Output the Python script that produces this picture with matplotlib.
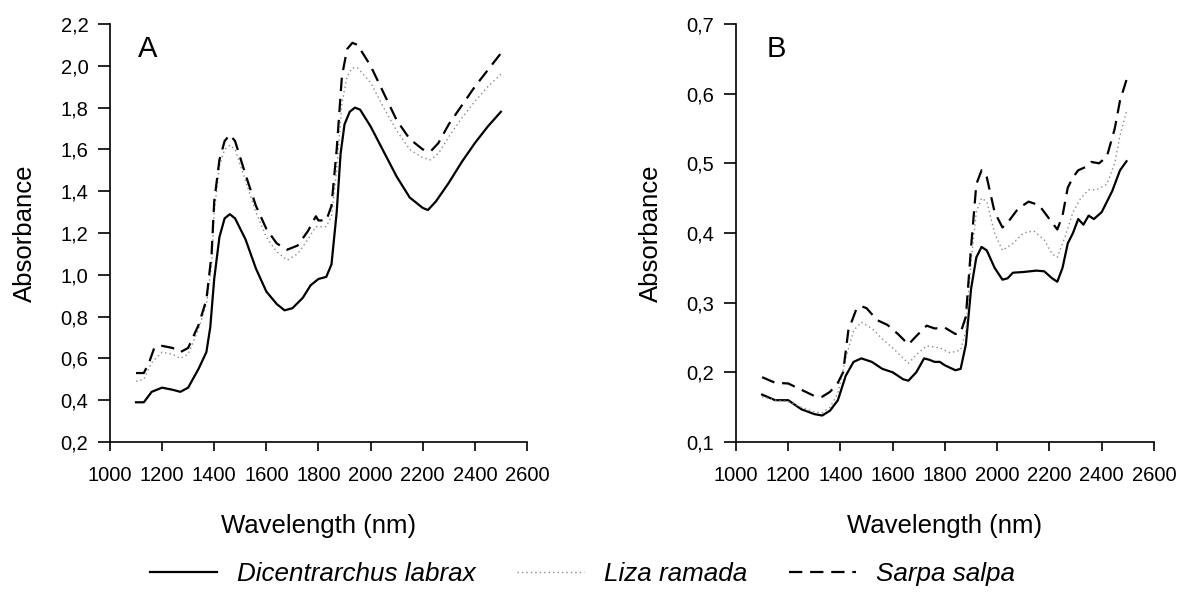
import numpy as np
import matplotlib
matplotlib.use("Agg")
import matplotlib.pyplot as plt
from matplotlib.ticker import FuncFormatter

plt.rcParams['font.family'] = ['Liberation Sans', 'DejaVu Sans']

# Panel A spectra (wavelength nm, absorbance)
wl_a_labrax = [1100, 1130, 1160, 1200, 1240, 1270, 1300, 1340, 1370, 1385, 1400, 1420, 1440, 1460,
               1480, 1520, 1560, 1600, 1640, 1670, 1700, 1740, 1770, 1800, 1830, 1850, 1870, 1885,
               1900, 1920, 1940, 1960, 2000, 2050, 2100, 2150, 2200, 2220, 2250, 2300, 2350, 2400,
               2450, 2500]
a_labrax = [0.39, 0.39, 0.44, 0.46, 0.45, 0.44, 0.46, 0.55, 0.63, 0.75, 0.98, 1.18, 1.27, 1.29,
            1.27, 1.17, 1.03, 0.92, 0.86, 0.83, 0.84, 0.89, 0.95, 0.98, 0.99, 1.05, 1.30, 1.58,
            1.72, 1.78, 1.80, 1.79, 1.71, 1.59, 1.47, 1.37, 1.32, 1.31, 1.35, 1.44, 1.54, 1.63,
            1.71, 1.78]

wl_a_ramada = [1100, 1130, 1160, 1200, 1240, 1270, 1300, 1340, 1370, 1390, 1400, 1420, 1440, 1460,
               1480, 1520, 1560, 1600, 1640, 1680, 1720, 1760, 1790, 1830, 1850, 1870, 1890, 1910,
               1930, 1950, 2000, 2050, 2100, 2150, 2200, 2230, 2260, 2300, 2350, 2400, 2450, 2500]
a_ramada = [0.49, 0.50, 0.58, 0.63, 0.62, 0.60, 0.62, 0.74, 0.86, 1.05, 1.30, 1.52, 1.60, 1.62,
            1.60, 1.45, 1.30, 1.18, 1.11, 1.07, 1.10, 1.17, 1.23, 1.23, 1.28, 1.50, 1.82, 1.95,
            1.99, 1.99, 1.92, 1.80, 1.69, 1.60, 1.56, 1.55, 1.58, 1.66, 1.75, 1.83, 1.90, 1.96]

wl_a_salpa = [1100, 1130, 1150, 1170, 1200, 1240, 1270, 1300, 1340, 1370, 1390, 1400, 1420, 1440,
              1460, 1480, 1520, 1560, 1600, 1640, 1680, 1720, 1760, 1790, 1800, 1830, 1850, 1870,
              1890, 1910, 1930, 1950, 2000, 2050, 2100, 2150, 2200, 2230, 2260, 2300, 2350, 2400,
              2450, 2500]
a_salpa = [0.53, 0.53, 0.58, 0.65, 0.66, 0.65, 0.63, 0.65, 0.76, 0.88, 1.10, 1.35, 1.55, 1.64,
           1.67, 1.64, 1.48, 1.33, 1.22, 1.15, 1.12, 1.14, 1.21, 1.28, 1.26, 1.26, 1.33, 1.60,
           1.95, 2.08, 2.11, 2.10, 2.00, 1.87, 1.74, 1.65, 1.60, 1.59, 1.63, 1.72, 1.81, 1.90,
           1.98, 2.06]

# Panel B spectra
wl_b_labrax = [1100, 1150, 1200, 1250, 1300, 1330, 1360, 1390, 1420, 1450, 1480, 1520, 1560, 1600,
               1640, 1660, 1690, 1720, 1740, 1760, 1780, 1800, 1840, 1860, 1880, 1900, 1920, 1940,
               1960, 1990, 2020, 2040, 2060, 2100, 2150, 2180, 2210, 2230, 2250, 2270, 2290, 2310,
               2330, 2350, 2370, 2400, 2440, 2470, 2495]
b_labrax = [0.168, 0.160, 0.160, 0.147, 0.140, 0.138, 0.145, 0.160, 0.195, 0.215, 0.220, 0.215,
            0.205, 0.200, 0.190, 0.188, 0.200, 0.220, 0.218, 0.215, 0.215, 0.210, 0.203, 0.205,
            0.240, 0.320, 0.365, 0.380, 0.375, 0.350, 0.333, 0.335, 0.343, 0.344, 0.346, 0.345,
            0.335, 0.330, 0.350, 0.385, 0.400, 0.420, 0.412, 0.425, 0.420, 0.430, 0.460, 0.490,
            0.503]

wl_b_ramada = [1100, 1150, 1200, 1250, 1300, 1330, 1360, 1390, 1420, 1450, 1480, 1520, 1560, 1600,
               1640, 1660, 1690, 1730, 1780, 1820, 1860, 1880, 1900, 1920, 1940, 1960, 1990, 2020,
               2060, 2100, 2140, 2180, 2210, 2230, 2260, 2290, 2320, 2350, 2380, 2420, 2450, 2470,
               2495]
b_ramada = [0.165, 0.160, 0.158, 0.150, 0.143, 0.142, 0.150, 0.170, 0.220, 0.260, 0.272, 0.263,
            0.248, 0.235, 0.220, 0.213, 0.225, 0.238, 0.235, 0.228, 0.232, 0.260, 0.360, 0.430,
            0.450, 0.445, 0.400, 0.375, 0.385, 0.400, 0.403, 0.390, 0.370, 0.365, 0.395, 0.430,
            0.450, 0.462, 0.462, 0.470, 0.500, 0.540, 0.575]

wl_b_salpa = [1100, 1150, 1200, 1250, 1300, 1330, 1360, 1390, 1410, 1430, 1460, 1480, 1500, 1540,
              1580, 1620, 1660, 1690, 1730, 1760, 1800, 1840, 1860, 1880, 1900, 1920, 1940, 1960,
              1990, 2020, 2040, 2080, 2120, 2160, 2200, 2230, 2250, 2270, 2290, 2310, 2340, 2360,
              2390, 2420, 2450, 2470, 2495]
b_salpa = [0.193, 0.185, 0.184, 0.175, 0.166, 0.165, 0.172, 0.185, 0.200, 0.260, 0.290, 0.295,
           0.292, 0.275, 0.268, 0.255, 0.240, 0.252, 0.267, 0.263, 0.264, 0.255, 0.257, 0.280,
           0.380, 0.470, 0.490, 0.480, 0.430, 0.408, 0.415, 0.435, 0.445, 0.440, 0.420, 0.405,
           0.425, 0.465, 0.480, 0.490, 0.495, 0.502, 0.500, 0.510, 0.550, 0.590, 0.620]

species = ["Dicentrarchus labrax", "Liza ramada", "Sarpa salpa"]
x_ticks = [1000, 1200, 1400, 1600, 1800, 2000, 2200, 2400, 2600]
y_ticks_a = [0.2, 0.4, 0.6, 0.8, 1.0, 1.2, 1.4, 1.6, 1.8, 2.0, 2.2]
y_ticks_b = [0.1, 0.2, 0.3, 0.4, 0.5, 0.6, 0.7]

styles = [dict(color='black', lw=1.6, ls='-'),
          dict(color='#8a8a8a', lw=1.0, ls=(0, (1, 2.2))),
          dict(color='black', lw=1.6, ls=(0, (6, 3.5)))]

fig = plt.figure(figsize=(11.81, 5.94), dpi=100)
ax_a = fig.add_axes([0.0931, 0.2559, 0.3531, 0.7037])
ax_b = fig.add_axes([0.6232, 0.2559, 0.3539, 0.7037])

comma = FuncFormatter(lambda v, p: f"{v:.1f}".replace('.', ','))

panels = [
    (ax_a, [(wl_a_labrax, a_labrax), (wl_a_ramada, a_ramada), (wl_a_salpa, a_salpa)], y_ticks_a, "A"),
    (ax_b, [(wl_b_labrax, b_labrax), (wl_b_ramada, b_ramada), (wl_b_salpa, b_salpa)], y_ticks_b, "B"),
]

handles = []
for ax, series, yt, tag in panels:
    hs = []
    for (wl, ab), st, name in zip(series, styles, species):
        h, = ax.plot(wl, ab, label=name, **st)
        hs.append(h)
    handles = hs
    ax.set_xlim(1000, 2600)
    ax.set_ylim(yt[0], yt[-1])
    ax.set_xticks(x_ticks)
    ax.set_yticks(yt)
    ax.yaxis.set_major_formatter(comma)
    for s in ['top', 'right']:
        ax.spines[s].set_visible(False)
    for s in ['left', 'bottom']:
        ax.spines[s].set_linewidth(1.2)
    ax.tick_params(axis='x', direction='out', length=6.5, width=1.2, labelsize=14.5, pad=10.5)
    ax.tick_params(axis='y', direction='out', length=8.5, width=1.2, labelsize=14.5, pad=7)
    ax.set_xlabel("Wavelength (nm)", fontsize=18.5, labelpad=21)
    ax.set_ylabel("Absorbance", fontsize=18.5, labelpad=17)
    ax.text(0.067 if tag == "A" else 0.074, 0.921, tag, transform=ax.transAxes,
            fontsize=21, ha='left', va='baseline')

leg = fig.legend(handles, species, loc='center', bbox_to_anchor=(0.493, 0.033), ncol=3,
                 frameon=False, handlelength=2.6, handletextpad=0.75, columnspacing=1.6,
                 prop={'size': 18.7, 'style': 'italic'})

fig.savefig("out.png", dpi=100)
